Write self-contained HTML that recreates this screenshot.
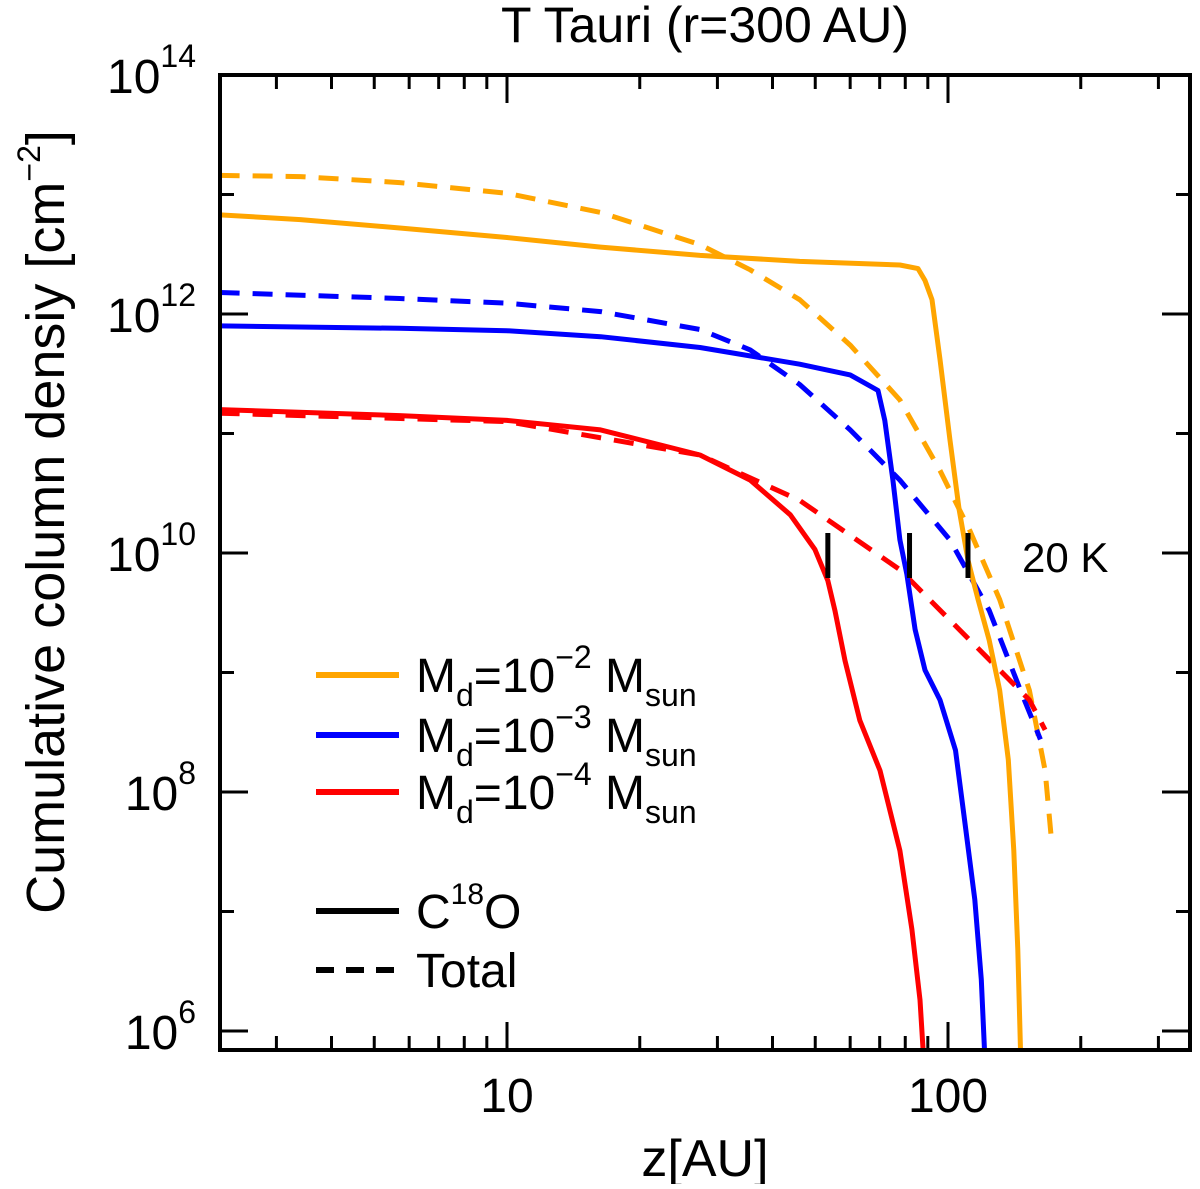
<!DOCTYPE html>
<html><head><meta charset="utf-8"><style>
body{margin:0;background:#fff;}
svg text{font-family:"Liberation Sans",sans-serif;fill:#000;}
</style></head><body>
<svg id="chart" width="1200" height="1184" xmlns="http://www.w3.org/2000/svg">
<g id="marks"></g>
<g id="axes"></g>
<text x="705" y="42" font-size="50" text-anchor="middle">T Tauri (r=300 AU)</text>
<text x="705" y="1176" font-size="52" text-anchor="middle">z[AU]</text>
<text transform="translate(64,522) rotate(-90)" font-size="54" text-anchor="middle">Cumulative column densiy [cm<tspan dy="-24" font-size="32">−2</tspan><tspan dy="24">]</tspan></text>
<text x="1022" y="572" font-size="42">20 K</text>
<g font-size="48">
<line x1="316" y1="675" x2="399" y2="675" stroke="#ffa500" stroke-width="6"/>
<text x="416" y="692">M<tspan dy="14" font-size="32">d</tspan><tspan dy="-14">=10</tspan><tspan dy="-24" font-size="32">−2</tspan><tspan dy="24"> M</tspan><tspan dy="14" font-size="32">sun</tspan></text>
<line x1="316" y1="735" x2="399" y2="735" stroke="#0000ff" stroke-width="6"/>
<text x="416" y="752">M<tspan dy="14" font-size="32">d</tspan><tspan dy="-14">=10</tspan><tspan dy="-24" font-size="32">−3</tspan><tspan dy="24"> M</tspan><tspan dy="14" font-size="32">sun</tspan></text>
<line x1="316" y1="792" x2="399" y2="792" stroke="#ff0000" stroke-width="6"/>
<text x="416" y="809">M<tspan dy="14" font-size="32">d</tspan><tspan dy="-14">=10</tspan><tspan dy="-24" font-size="32">−4</tspan><tspan dy="24"> M</tspan><tspan dy="14" font-size="32">sun</tspan></text>
<line x1="316" y1="911" x2="399" y2="911" stroke="#000" stroke-width="6"/>
<text x="416" y="928">C<tspan dy="-24" font-size="30">18</tspan><tspan dy="24">O</tspan></text>
<line x1="316" y1="970" x2="399" y2="970" stroke="#000" stroke-width="6" stroke-dasharray="18,12"/>
<text x="416" y="987">Total</text>
</g>
</svg>
<script>
const orangeSolidZ=[2.23,3.40,5.71,10,16.3,27.4,46.1,77.8,85.5,88.7,92.0,95.9,101,106,111,117,124,131,137,141,144,146];
const orangeSolidN=[12.83,12.79,12.72,12.64,12.56,12.49,12.44,12.41,12.38,12.28,12.12,11.62,10.95,10.36,9.94,9.61,9.27,8.85,8.27,7.51,6.68,5.84];
const orangeDashZ=[2.23,3.40,5.71,10,16.3,27.4,35.6,46.1,60.0,77.8,95.9,112,131,153,166,172];
const orangeDashN=[13.16,13.15,13.10,13.01,12.85,12.58,12.37,12.12,11.74,11.28,10.69,10.19,9.61,8.85,8.18,7.56];
const blueSolidZ=[2.23,5.71,10,16.3,27.4,46.1,60.0,69.4,71.9,75.0,77.8,80.7,84.2,88.7,95.9,104,109,115,119,121];
const blueSolidN=[11.90,11.88,11.86,11.81,11.72,11.58,11.49,11.36,11.11,10.61,10.11,9.82,9.36,9.02,8.77,8.35,7.77,7.10,6.43,5.84];
const blueDashZ=[2.23,5.71,10,16.3,27.4,35.6,46.1,60.0,77.8,101,124,146,162];
const blueDashN=[12.18,12.13,12.09,12.02,11.87,11.70,11.41,11.03,10.61,10.11,9.52,8.85,8.44];
const redSolidZ=[2.23,5.71,10,16.3,27.4,35.6,43.9,49.9,53.4,55.4,58.4,63.1,70.1,77.8,82.8,86.4,87.8];
const redSolidN=[11.20,11.15,11.11,11.03,10.82,10.61,10.32,10.03,9.77,9.52,9.10,8.60,8.18,7.51,6.85,6.26,5.84];
const redDashZ=[2.23,10,27.4,46.1,77.8,106,131,153,166];
const redDashN=[11.17,11.10,10.82,10.44,9.86,9.36,9.02,8.77,8.52];
const tempZ=[53.4,81.8,111];
const yTickExp=[6,8,10,12,14];
const xTickLabels=[10,100];

const L=220,R=1190,T=75,B=1050;
const xs=z=>507+(Math.log10(z)-1)*441;
const ys=n=>75+(14-n)*119.5;
const NS="http://www.w3.org/2000/svg";
const marks=document.getElementById('marks'),axes=document.getElementById('axes');
function mk(tag,attrs,parent){const e=document.createElementNS(NS,tag);for(const k in attrs)e.setAttribute(k,attrs[k]);parent.appendChild(e);return e;}
const clip=mk('clipPath',{id:'clip'},marks);mk('rect',{x:L,y:T,width:R-L,height:B-T},clip);
function series(zs,ns,color,dash,name){
  const d=zs.map((z,i)=>(i?'L':'M')+xs(z).toFixed(1)+','+ys(ns[i]).toFixed(1)).join(' ');
  const p=mk('path',{d:d,fill:'none',stroke:color,'stroke-width':5,'stroke-linejoin':'round','clip-path':'url(#clip)'},marks);
  if(dash)p.setAttribute('stroke-dasharray','20,13');
  
  
}
series(orangeDashZ,orangeDashN,'#ffa500',true,'series-orange-total');
series(blueDashZ,blueDashN,'#0000ff',true,'series-blue-total');
series(redDashZ,redDashN,'#ff0000',true,'series-red-total');
series(orangeSolidZ,orangeSolidN,'#ffa500',false,'series-orange-c18o');
series(blueSolidZ,blueSolidN,'#0000ff',false,'series-blue-c18o');
series(redSolidZ,redSolidN,'#ff0000',false,'series-red-c18o');
tempZ.forEach(z=>{
  const l=mk('line',{x1:xs(z),x2:xs(z),y1:533,y2:578,stroke:'#000','stroke-width':5},marks);
  
  
});
const frame=mk('rect',{x:L,y:T,width:R-L,height:B-T,fill:'none',stroke:'#000','stroke-width':4},axes);


for(let e=6;e<=14;e++){
  const y=ys(e),len=(e%2===0)?28:14;
  if(y<T-1||y>B)continue;
  mk('line',{x1:L,x2:L+len,y1:y,y2:y,stroke:'#000','stroke-width':3},axes);
  mk('line',{x1:R,x2:R-len,y1:y,y2:y,stroke:'#000','stroke-width':3},axes);
}
yTickExp.forEach(e=>{
  const t=mk('text',{x:196,y:ys(e)+18,'font-size':48,'text-anchor':'end'},axes);
  t.innerHTML='10<tspan dy="-26" font-size="32">'+e+'</tspan>';
  
  
});
[1,10,100].forEach(dec=>{for(let m=1;m<10;m++){
  const z=dec*m,x=xs(z);if(x<=L+1||x>=R-1)continue;
  const len=(m===1)?28:14;
  mk('line',{x1:x,x2:x,y1:B,y2:B-len,stroke:'#000','stroke-width':3},axes);
  mk('line',{x1:x,x2:x,y1:T,y2:T+len,stroke:'#000','stroke-width':3},axes);
}});
xTickLabels.forEach(v=>{
  const t=mk('text',{x:xs(v),y:1112,'font-size':48,'text-anchor':'middle'},axes);
  t.textContent=v;
  
  
});
</script>
</body></html>
